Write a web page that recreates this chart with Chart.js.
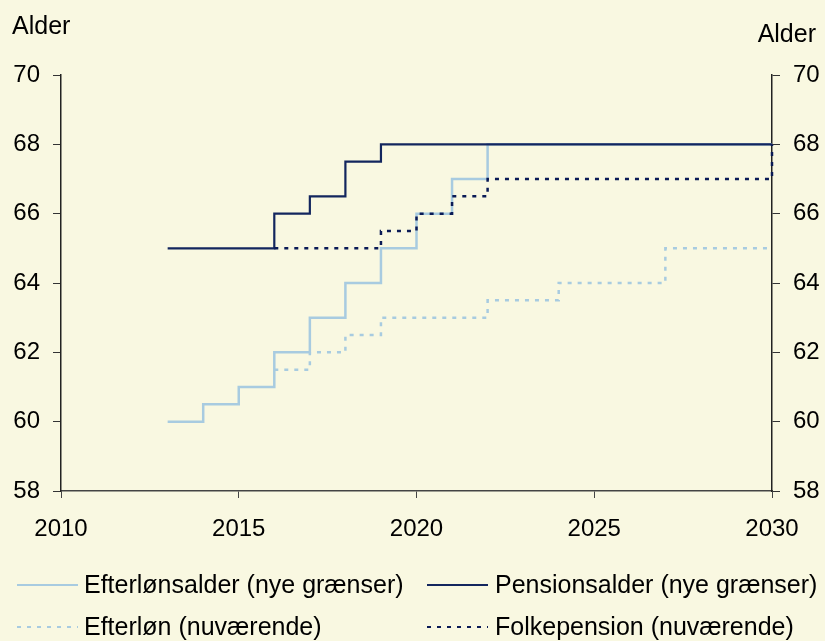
<!DOCTYPE html>
<html>
<head>
<meta charset="utf-8">
<script src="https://cdn.jsdelivr.net/npm/chart.js@4.4.1/dist/chart.umd.min.js"></script>
<style>
  html, body { margin:0; padding:0; background:#f9f8e1; }
  #wrap { width:825px; height:641px; position:relative; }
</style>
</head>
<body>
<div id="wrap"><canvas id="chartAlder" width="825" height="641"></canvas></div>
<script>
// Data (step changes per year)
const efterlonsalderYears = [2013, 2014, 2015, 2016, 2017, 2018, 2019, 2020, 2021, 2022, 2030];
const efterlonsalderAges  = [60, 60.5, 61, 62, 63, 64, 65, 66, 67, 68, 68];
const pensionsalderYears  = [2013, 2016, 2017, 2018, 2019, 2030];
const pensionsalderAges   = [65, 66, 66.5, 67.5, 68, 68];
const efterlonNuvYears    = [2016, 2017, 2018, 2019, 2022, 2024, 2027, 2030];
const efterlonNuvAges     = [61.5, 62, 62.5, 63, 63.5, 64, 65, 65];
const folkepensionYears   = [2016, 2019, 2020, 2021, 2022, 2030];
const folkepensionAges    = [65, 65.5, 66, 66.5, 67, 68];

const seriesLabels = ['Efterlønsalder (nye grænser)', 'Pensionsalder (nye grænser)', 'Efterløn (nuværende)', 'Folkepension (nuværende)'];
const xTicks = [2010, 2015, 2020, 2025, 2030];
const yTicks = [58, 60, 62, 64, 66, 68, 70];
const axisTitle = 'Alder';

const LIGHT = '#a8cbe0';
const DARK = '#13265e';
const DARK_DOT = '#0b1b56';
const BG = '#f9f8e1';
const FONT = "'Liberation Sans', Arial, sans-serif";

const pts = (xs, ys) => xs.map((x, i) => ({ x: x, y: ys[i] }));

Chart.defaults.font.family = FONT;
Chart.defaults.font.size = 24;
Chart.defaults.color = '#000';

// baggrund + "Alder" + egen legende
const extras = {
  id: 'extras',
  beforeDraw(chart) {
    const c = chart.ctx;
    c.save();
    c.fillStyle = BG;
    c.fillRect(0, 0, chart.width, chart.height);
    c.restore();
  },
  afterDraw(chart) {
    const c = chart.ctx;
    c.save();
    c.fillStyle = '#000';
    c.font = '25px ' + FONT;
    c.textBaseline = 'middle';
    c.textAlign = 'left';
    c.fillText(axisTitle, 12, 27);
    c.textAlign = 'right';
    c.fillText(axisTitle, 816, 35);

    const slots = [
      { x0: 17, x1: 78, tx: 84, y: 585 },
      { x0: 427, x1: 488, tx: 495, y: 585 },
      { x0: 17, x1: 78, tx: 84, y: 627 },
      { x0: 427, x1: 488, tx: 495, y: 627 }
    ];
    const legendOrder = [0, 1, 2, 3];
    legendOrder.forEach((di, k) => {
      const ds = chart.data.datasets[di];
      const s = slots[k];
      c.beginPath();
      c.strokeStyle = ds.borderColor;
      c.lineWidth = 2;
      c.setLineDash(ds.borderDash || []);
      c.moveTo(s.x0, s.y);
      c.lineTo(s.x1, s.y);
      c.stroke();
      c.setLineDash([]);
      c.textAlign = 'left';
      c.fillText(ds.label, s.tx, s.y + 1);
    });
    c.restore();
  }
};

const yAxisCommon = {
  type: 'linear',
  min: 58,
  max: 70,
  afterBuildTicks: (ax) => { ax.ticks = yTicks.map(v => ({ value: v })); },
  grid: { drawOnChartArea: false, drawTicks: true, tickLength: 8, color: '#333' },
  border: { display: true, color: '#222', width: 1.5 },
  ticks: { padding: 13, color: '#000' }
};

new Chart(document.getElementById('chartAlder'), {
  type: 'line',
  data: {
    datasets: [
      {
        label: seriesLabels[0],
        data: pts(efterlonsalderYears, efterlonsalderAges),
        borderColor: LIGHT, borderWidth: 2.5, stepped: 'before', order: 3
      },
      {
        label: seriesLabels[1],
        data: pts(pensionsalderYears, pensionsalderAges),
        borderColor: DARK, borderWidth: 2.2, stepped: 'before', order: 1
      },
      {
        label: seriesLabels[2],
        data: pts(efterlonNuvYears, efterlonNuvAges),
        borderColor: LIGHT, borderWidth: 2.5, borderDash: [4, 6], stepped: 'before', order: 2
      },
      {
        label: seriesLabels[3],
        data: pts(folkepensionYears, folkepensionAges),
        borderColor: DARK_DOT, borderWidth: 2.5, borderDash: [4, 6], stepped: 'before', order: 0,
        clip: 4
      }
    ]
  },
  options: {
    responsive: false,
    animation: false,
    events: [],
    layout: { padding: { top: 75, bottom: 90, left: 0, right: 0 } },
    elements: { point: { radius: 0 }, line: { tension: 0, fill: false } },
    plugins: { legend: { display: false }, tooltip: { enabled: false } },
    scales: {
      x: {
        type: 'linear',
        min: 2010,
        max: 2030,
        afterBuildTicks: (ax) => { ax.ticks = xTicks.map(v => ({ value: v })); },
        afterFit: (ax) => { ax.height = 60; },
        grid: { drawOnChartArea: false, drawTicks: true, tickLength: 7, color: '#444' },
        border: { display: true, color: '#444', width: 1.5 },
        ticks: { padding: 17, color: '#000', maxRotation: 0, callback: v => String(v) }
      },
      y: Object.assign({}, yAxisCommon, {
        position: 'left',
        afterFit: (ax) => { ax.width = 61; }
      }),
      y2: Object.assign({}, yAxisCommon, {
        position: 'right',
        afterFit: (ax) => { ax.width = 53; }
      })
    }
  },
  plugins: [extras]
});
</script>
</body>
</html>
